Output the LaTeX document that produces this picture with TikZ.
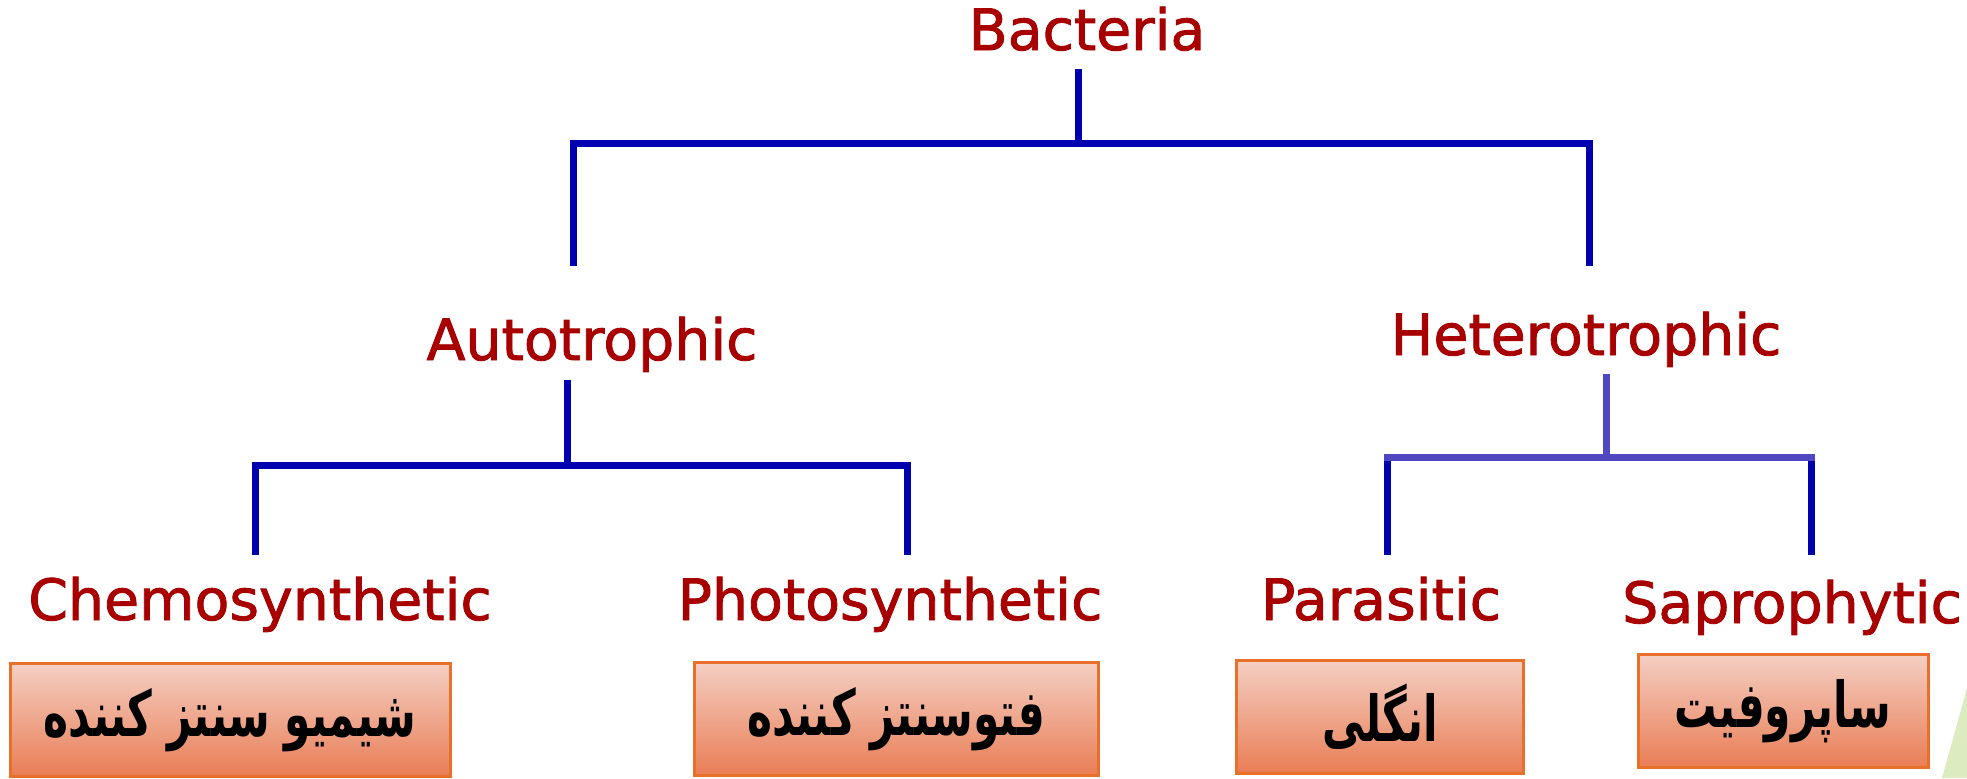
\documentclass[tikz,border=0pt]{standalone}
\usepackage{fontspec}
\setmainfont{DejaVu Sans}
\newfontfamily\labelfont[FakeBold=1.5]{DejaVu Sans}
\newfontfamily\arabicfont[Script=Arabic, FakeStretch=0.67]{DejaVu Sans}
\TeXXeTstate=1
\usepackage{tikz}
\usetikzlibrary{positioning}
\definecolor{labelred}{HTML}{A80000}
\definecolor{treeblue}{HTML}{0000B0}
\definecolor{hetblue}{HTML}{5048C0}
\definecolor{boxtop}{HTML}{F4CFC3}
\definecolor{boxbottom}{HTML}{E97D55}
\definecolor{boxedge}{HTML}{E8702A}
\definecolor{leafgreen}{HTML}{DCEBC0}

\begin{document}
\begin{tikzpicture}[x=0.1mm, y=-0.1mm,
        group/.style={anchor=base, text=labelred, font=\labelfont\fontsize{16.2}{18}\selectfont},
        branch/.style={treeblue, line width=0.7mm, line cap=rect},
        farsi/.style={draw=boxedge, line width=0.3mm, top color=boxtop, bottom color=boxbottom,
            inner sep=0pt, minimum height=11.3mm, font=\arabicfont\bfseries\fontsize{18}{22}\selectfont}]
        \useasboundingbox (0,0) rectangle (1967,778);

        % corner of the slide
        \fill[leafgreen] (1942,778) -- (1967,688) -- (1967,778) -- cycle;

        % Draw the names
        \node[group] (bac) at (1087,50) {Bacteria};
        \node[group] (auto) at (592,360) {Autotrophic};
        \node[group] (het) at (1586,355) {Heterotrophic};
        \node[group] (chemo) at (260,620) {Chemosynthetic};
        \node[group] (photo) at (890,620) {Photosynthetic};
        \node[group] (para) at (1381,620) {Parasitic};
        \node[group] (sapro) at (1792,623) {Saprophytic};

        % Persian boxes
        \node[farsi, minimum width=44mm] (chemofa) at (230,720) {\beginR شیمیو سنتز کننده\endR};
        \node[farsi, minimum width=40.4mm] (photofa) at (896,719) {\beginR فتوسنتز کننده\endR};
        \node[farsi, minimum width=28.7mm] (parafa) at (1380,717) {\beginR انگلی\endR};
        \node[farsi, minimum width=29mm] (saprofa) at (1783,711) {\beginR ساپروفیت\endR};

        % ends of the branches
        \coordinate (bac-out) at (1078,72);
        \coordinate (auto-in) at (573,262);
        \coordinate (het-in) at (1589,262);
        \coordinate (auto-out) at (567,383);
        \coordinate (chemo-in) at (255,551);
        \coordinate (photo-in) at (907,551);
        \coordinate (het-out) at (1606,377);
        \coordinate (para-in) at (1387,551);
        \coordinate (sapro-in) at (1811,551);

        % Draw the tree
        \draw[branch] (bac-out) -- ++(0,71) -| (auto-in);
        \draw[branch] (bac-out) -- ++(0,71) -| (het-in);
        \draw[branch] (auto-out) -- ++(0,82) -| (chemo-in);
        \draw[branch] (auto-out) -- ++(0,82) -| (photo-in);
        \draw[branch] (para-in |- het-out) ++(0,80) coordinate (het-bar) -- (para-in);
        \draw[branch] (sapro-in |- het-bar) -- (sapro-in);
        \draw[branch, hetblue] (het-out) -- (het-out |- het-bar);
        \draw[branch, hetblue] (het-bar) -- (sapro-in |- het-bar);
\end{tikzpicture}
\end{document}
